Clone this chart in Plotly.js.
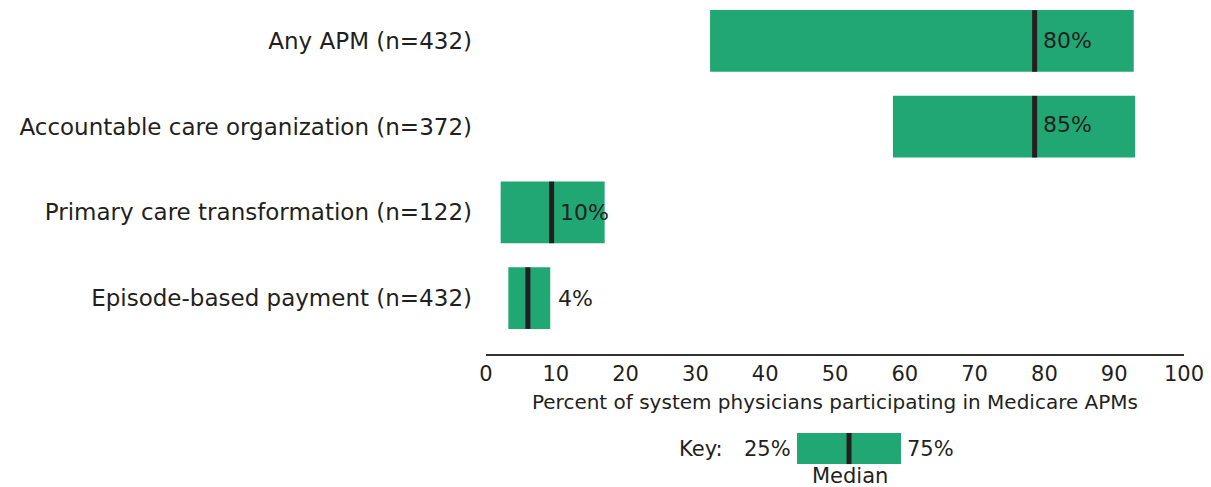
<!DOCTYPE html>
<html>
<head>
<meta charset="utf-8">
<script src="https://cdn.plot.ly/plotly-3.0.1.min.js"></script>
<style>html,body{margin:0;padding:0;background:#fff;}#chart{width:1211px;height:487px;}</style>
</head>
<body>
<div id="chart"></div>
<script>
const categories = ["Any APM (n=432)", "Accountable care organization (n=372)", "Primary care transformation (n=122)", "Episode-based payment (n=432)"];
const q25 = [32.1, 58.3, 2.1, 3.2];
const q75 = [92.8, 93.0, 17.0, 9.2];
const median = [78.6, 78.6, 9.4, 6.0];
const medianLabels = ["80%", "85%", "10%", "4%"];
const labelAnchor = ["median", "median", "median", "q75"];
const xTicks = [0, 10, 20, 30, 40, 50, 60, 70, 80, 90, 100];

const FONT = "DejaVu Sans, Open Sans, sans-serif";
const INK = "#231f20";
const GREEN = "#21a773";

const barTrace = {
  type: "bar", orientation: "h",
  y: categories,
  base: q25,
  x: q75.map((v, i) => v - q25[i]),
  marker: {color: GREEN, line: {width: 0}},
  width: 0.72,
  hoverinfo: "skip",
  showlegend: false
};
const medianTrace = {
  type: "scatter", mode: "markers",
  x: median, y: categories,
  marker: {symbol: "line-ns", size: 44, line: {width: 5, color: INK}, color: INK},
  hoverinfo: "skip", showlegend: false
};

const labelAnnotations = medianLabels.map((t, i) => ({
  xref: "x", yref: "y",
  x: labelAnchor[i] === "median" ? median[i] : q75[i],
  y: categories[i],
  text: t, showarrow: false,
  xanchor: "left", yanchor: "middle", xshift: 6, yshift: i === 1 ? 2 : 0,
  font: {family: FONT, size: 22, color: INK}
}));

const keyFont = {family: FONT, size: 21, color: INK};

const layout = {
  width: 1211, height: 487,
  margin: {l: 486, r: 27, t: 0, b: 133},
  paper_bgcolor: "#fff", plot_bgcolor: "#fff",
  font: {family: FONT, color: INK},
  xaxis: {
    range: [0, 100], tickvals: xTicks, ticktext: xTicks.map(String),
    showgrid: false, zeroline: false,
    showline: true, linecolor: "#333", linewidth: 1.5,
    ticks: "", tickfont: {family: FONT, size: 21, color: INK},
    title: {text: "Percent of system physicians participating in Medicare APMs", font: {family: FONT, size: 20, color: INK}, standoff: 10},
    fixedrange: true
  },
  yaxis: {
    type: "category", range: [3.652, -0.478],
    showgrid: false, zeroline: false, showline: false, ticks: "",
    tickfont: {family: FONT, size: 23, color: INK}, ticklabelstandoff: 13,
    fixedrange: true
  },
  shapes: [
    {type: "rect", xref: "paper", yref: "paper", x0: 0.4456, x1: 0.5946, y0: -0.311, y1: -0.223, fillcolor: GREEN, line: {width: 0}},
    {type: "line", xref: "paper", yref: "paper", x0: 0.5201, x1: 0.5201, y0: -0.311, y1: -0.223, line: {width: 5, color: INK}}
  ],
  annotations: labelAnnotations.concat([
    {xref: "paper", yref: "paper", x: 0.342, y: -0.267, xanchor: "right", yanchor: "middle", text: "Key:", showarrow: false, font: keyFont},
    {xref: "paper", yref: "paper", x: 0.440, y: -0.267, xanchor: "right", yanchor: "middle", text: "25%", showarrow: false, font: keyFont},
    {xref: "paper", yref: "paper", x: 0.600, y: -0.267, xanchor: "left", yanchor: "middle", text: "75%", showarrow: false, font: keyFont},
    {xref: "paper", yref: "paper", x: 0.522, y: -0.346, xanchor: "center", yanchor: "middle", text: "Median", showarrow: false, font: keyFont}
  ])
};

Plotly.newPlot("chart", [barTrace, medianTrace], layout, {displayModeBar: false, staticPlot: true});
</script>
</body>
</html>
